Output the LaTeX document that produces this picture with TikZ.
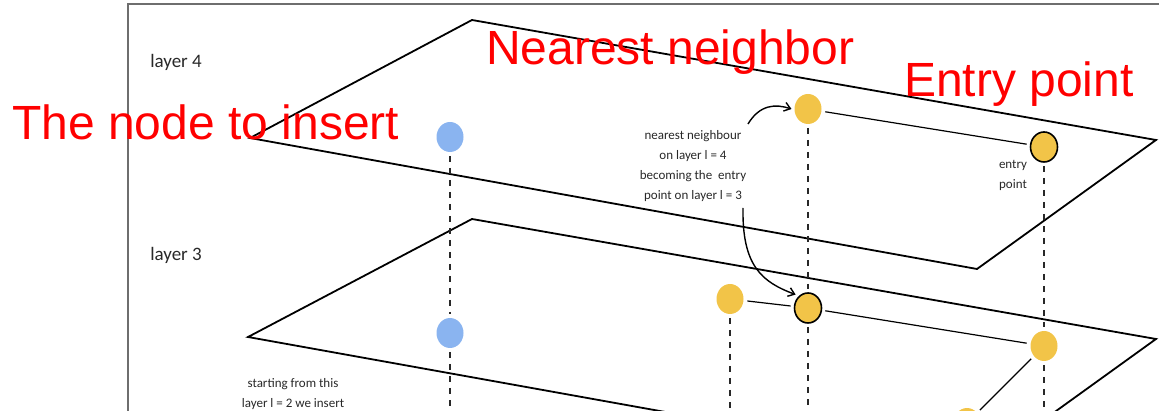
\documentclass[tikz,border=0pt]{standalone}
\usepackage{fontspec}
\setmainfont{Liberation Sans}
\newfontfamily\handfont{Carlito}
\usetikzlibrary{shapes.geometric,arrows.meta}
\definecolor{nodeblue}{RGB}{138,180,240}
\definecolor{nodeyellow}{RGB}{242,196,72}
\definecolor{framegray}{RGB}{110,110,110}
\definecolor{inkgray}{RGB}{40,40,40}
\tikzset{
  plane/.style={line width=1.8pt, black, line join=miter},
  pt/.style={ellipse, minimum width=27pt, minimum height=30pt, inner sep=0pt, outer sep=4pt},
  newpt/.style={pt, fill=nodeblue},
  oldpt/.style={pt, fill=nodeyellow},
  entrypt/.style={pt, fill=nodeyellow, draw=black, line width=1.6pt},
  link/.style={line width=1.2pt, black},
  drop/.style={line width=1.2pt, inkgray, dash pattern=on 6pt off 6pt},
  note/.style={font=\handfont\fontsize{13}{20}\selectfont, text=inkgray, align=center, inner sep=0pt},
  layerlbl/.style={font=\handfont\fontsize{19}{20}\selectfont, text=inkgray, inner sep=0pt},
  callout/.style={font=\fontsize{48}{50}\selectfont, text=red, inner sep=0pt, anchor=base west},
  curvedarrow/.style={line width=1.4pt, black, -{Straight Barb[length=6pt,width=9pt]}}
}
\begin{document}
\begin{tikzpicture}[x=1pt, y=-1pt]
\useasboundingbox (0,0) rectangle (1159,411);
\clip (0,0) rectangle (1159,411);

% frame of the slide
\draw[framegray, line width=2pt] (128,420) -- (128,4) -- (1170,4);

% the two layer planes
\draw[plane] (250,138) -- (472,20) -- (1156,140) -- (977,269) -- cycle;
\draw[plane] (248,337) -- (472,219) -- (1156,339) -- (977,468) -- cycle;

% layer labels
\node[layerlbl] (l4) at (176,62) {layer 4};
\node[layerlbl] (l3) at (176,255) {layer 3};

% points on layer 4
\node[newpt]   (q4) at (450,137) {};
\node[oldpt]   (n4) at (808,109) {};
\node[entrypt] (e4) at (1044,147) {};

% points on layer 3
\node[newpt]   (q3) at (450,333) {};
\node[oldpt]   (a3) at (730,299) {};
\node[entrypt] (n3) at (808,308) {};
\node[oldpt]   (e3) at (1044,346) {};
\node[oldpt]   (c3) at (967,423) {};

% bottom ends of the vertical drops
\coordinate (qb) at (450,420);
\coordinate (ab) at (730,420);
\coordinate (nb) at (808,420);
\coordinate (eb) at (1044,420);

% graph edges
\draw[link] (n4) -- (e4);
\draw[link] (a3) -- (n3);
\draw[link] (n3) -- (e3);
\draw[link] (e3) -- (c3);

% vertical drops through the layers
\draw[drop] (q4) -- (q3);
\draw[drop] (q3) -- (qb);
\draw[drop] (n4) -- (n3);
\draw[drop] (n3) -- (nb);
\draw[drop] (e4) -- (e3);
\draw[drop] (e3) -- (eb);
\draw[drop] (a3) -- (ab);

% annotations
\node[note] (nn) at (693,166) {nearest neighbour\\on layer l = 4\\becoming the\ \ entry\\point on layer l = 3};
\node[note] (ep) at (1013,175) {entry\\point};
\node[note, anchor=north] (st) at (293,378) {starting from this\\layer l = 2 we insert};

\coordinate (arA) at (748,124);
\coordinate (arB) at (743,208);
\draw[curvedarrow] (arA) .. controls (760,104) and (776,104) .. ([xshift=1pt]n4.west);
\draw[curvedarrow] (arB) .. controls (742,266) and (762,282) .. (n3.north west);

% red callouts
\node[callout] (t1) at (12,140) {The node to insert};
\node[callout] (t2) at (486,65) {Nearest neighbor};
\node[callout] (t3) at (904,97) {Entry point};
\end{tikzpicture}
\end{document}
